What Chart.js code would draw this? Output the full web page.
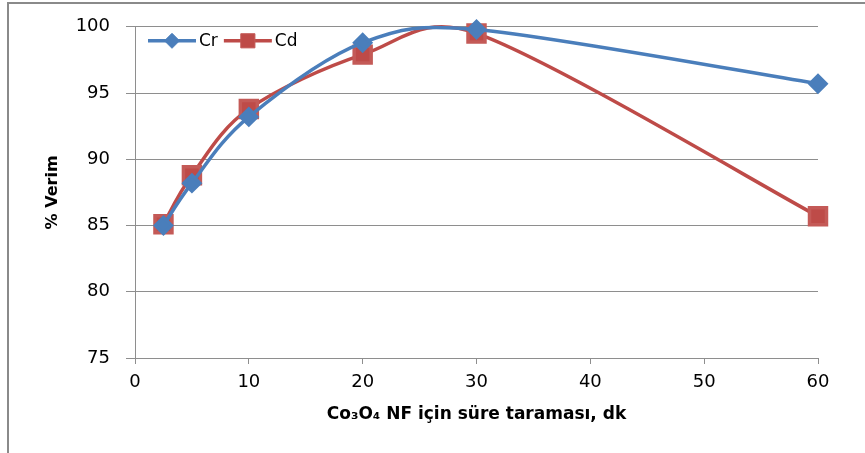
<!DOCTYPE html>
<html>
<head>
<meta charset="utf-8">
<script src="https://cdn.jsdelivr.net/npm/chart.js@4/dist/chart.umd.min.js"></script>
<style>
  html, body { margin: 0; padding: 0; background: #fff; }
  #wrap { position: relative; width: 865px; height: 453px; }
  #frame {
    position: absolute; left: 7px; top: 2px; right: 0; bottom: 0;
    border-top: 2px solid #8a8a8a; border-left: 2px solid #8a8a8a;
  }
  canvas { position: absolute; left: 0; top: 0; }
</style>
</head>
<body>
<div id="wrap">
  <div id="frame"></div>
  <canvas id="chart" width="865" height="453"></canvas>
</div>
<script>
const times = [2.5, 5, 10, 20, 30, 60];
const crValues = [85.0, 88.2, 93.2, 98.8, 99.8, 95.7];
const cdValues = [85.1, 88.8, 93.8, 97.9, 99.5, 85.7];
const seriesNames = ["Cr", "Cd"];
const xTitle = "Co\u2083O\u2084 NF için süre taraması, dk";
const yTitle = "% Verim";

const gridColor = "#8e8e8e";
const tickFont = { family: "DejaVu Sans", size: 18 };

// Excel-like smoothing: arms of (next - prev) / 6, capped at half the segment
const excelSmooth = {
  id: "excelSmooth",
  beforeDatasetDraw(chart, args) {
    const meta = args.meta;
    meta.dataset.updateControlPoints(chart.chartArea, "x");
    const pts = meta.data;
    for (let i = 0; i < pts.length; i++) {
      const p = pts[i];
      const prev = pts[i - 1] || p;
      const next = pts[i + 1] || p;
      const ax = (next.x - prev.x) / 6;
      const ay = (next.y - prev.y) / 6;
      const len = Math.hypot(ax, ay);
      const before = Math.hypot(p.x - prev.x, p.y - prev.y) / 2;
      const after = Math.hypot(next.x - p.x, next.y - p.y) / 2;
      const s1 = len > before ? before / len : 1;
      const s2 = len > after ? after / len : 1;
      p.cp1x = p.x - ax * s1;
      p.cp1y = p.y - ay * s1;
      p.cp2x = p.x + ax * s2;
      p.cp2y = p.y + ay * s2;
    }
  },
};

// Excel-style legend: line with marker, drawn top-left inside the plot
const lineLegend = {
  id: "lineLegend",
  afterDraw(chart) {
    const ctx = chart.ctx;
    const area = chart.chartArea;
    let x = area.left + 13;
    const y = area.top + 14;
    ctx.save();
    ctx.font = "17px 'DejaVu Sans'";
    ctx.textBaseline = "middle";
    chart.data.datasets.forEach((ds) => {
      ctx.strokeStyle = ds.borderColor;
      ctx.lineWidth = 3.5;
      ctx.beginPath();
      ctx.moveTo(x, y);
      ctx.lineTo(x + 48, y);
      ctx.stroke();
      ctx.fillStyle = ds.pointBackgroundColor;
      ctx.strokeStyle = ds.pointBorderColor;
      ctx.lineWidth = 1;
      Chart.helpers.drawPoint(ctx, {
        pointStyle: ds.pointStyle,
        radius: ds.pointStyle === "rect" ? 10 : 7.5,
        borderWidth: 1,
      }, x + 24, y);
      ctx.fillStyle = "#000";
      ctx.fillText(ds.label, x + 51, y + 1);
      x += 51 + ctx.measureText(ds.label).width + 6;
    });
    ctx.restore();
  },
};

new Chart(document.getElementById("chart"), {
  type: "line",
  data: {
    datasets: [
      {
        label: seriesNames[0],
        data: times.map((t, i) => ({ x: t, y: crValues[i] })),
        borderColor: "#4a7ebb",
        pointBackgroundColor: "#4a7ebb",
        pointBorderColor: "#4a7ebb",
        pointStyle: "rectRot",
        pointRadius: 8,
        borderWidth: 3.5,
        tension: 0.3,
        capBezierPoints: false,
        clip: false,
      },
      {
        label: seriesNames[1],
        data: times.map((t, i) => ({ x: t, y: cdValues[i] })),
        borderColor: "#be4b48",
        pointBackgroundColor: "#be4b48",
        pointBorderColor: "#c45a57",
        pointStyle: "rect",
        pointRadius: 12,
        borderWidth: 3.5,
        tension: 0.3,
        capBezierPoints: false,
        clip: false,
      },
    ],
  },
  options: {
    responsive: false,
    animation: false,
    events: [],
    layout: { padding: { left: 0, right: 47, top: 26, bottom: 0 } },
    plugins: {
      legend: { display: false },
      tooltip: { enabled: false },
    },
    scales: {
      x: {
        type: "linear",
        min: 0,
        max: 60,
        ticks: { stepSize: 10, color: "#000", font: tickFont, padding: 8 },
        grid: { drawOnChartArea: false, tickLength: 6, color: gridColor },
        border: { color: gridColor },
        title: {
          display: true,
          text: xTitle,
          color: "#000",
          font: { family: "DejaVu Sans", size: 17, weight: "bold" },
          padding: { top: 0, bottom: 28 },
        },
        afterFit(scale) { scale.height = 95; },
      },
      y: {
        min: 75,
        max: 100,
        ticks: { stepSize: 5, color: "#000", font: tickFont, padding: 16 },
        grid: { color: gridColor, tickLength: 9 },
        border: { color: gridColor },
        title: {
          display: true,
          text: yTitle,
          color: "#000",
          font: { family: "DejaVu Sans", size: 16, weight: "bold" },
          padding: { top: 43, bottom: 0 },
        },
        afterFit(scale) { scale.width = 135; },
      },
    },
  },
  plugins: [excelSmooth, lineLegend],
});
</script>
</body>
</html>
